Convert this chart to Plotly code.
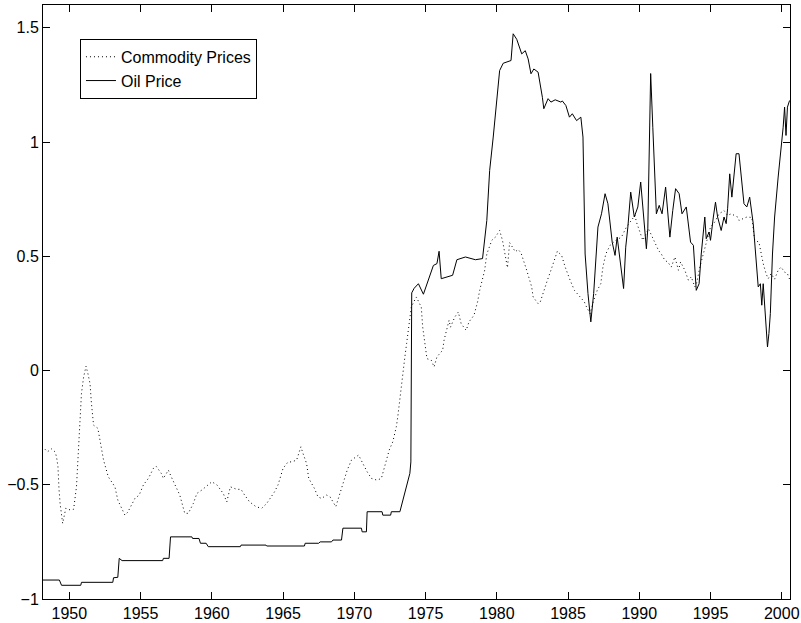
import plotly.graph_objects as go

# Oil price (solid)
oil_years = [1948.15, 1949.3, 1949.45, 1950.8, 1950.85, 1953.05, 1953.1, 1953.4, 1953.5, 1953.7,
             1956.55, 1956.6, 1957.0, 1957.1, 1958.6, 1958.65, 1959.1, 1959.2, 1959.6, 1959.75,
             1962.0, 1962.05, 1963.8, 1963.85, 1966.5, 1966.55, 1967.5, 1967.6, 1968.4, 1968.5,
             1969.1, 1969.2, 1970.5, 1970.55, 1970.85, 1970.9, 1971.95, 1972.0, 1972.55, 1972.6,
             1973.2, 1973.4, 1973.6, 1973.9, 1973.97, 1974.03, 1974.2, 1974.5, 1974.85, 1975.2,
             1975.55, 1975.8, 1975.95, 1976.1, 1976.5, 1976.9, 1977.2, 1977.8, 1978.5, 1979.0,
             1979.3, 1979.5, 1979.75, 1979.98, 1980.2, 1980.45, 1980.7, 1981.0, 1981.15, 1981.4,
             1981.75, 1982.0, 1982.2, 1982.4, 1982.6, 1982.9, 1983.2, 1983.3, 1983.6, 1983.8,
             1984.1, 1984.5, 1984.6, 1984.85, 1985.1, 1985.3, 1985.6, 1985.9, 1986.05, 1986.2,
             1986.4, 1986.6, 1986.8, 1987.1, 1987.35, 1987.6, 1987.8, 1988.1, 1988.3, 1988.45,
             1988.6, 1988.9, 1989.05, 1989.2, 1989.4, 1989.65, 1989.9, 1990.1, 1990.25, 1990.5,
             1990.6, 1990.8, 1990.95, 1991.2, 1991.4, 1991.6, 1991.85, 1992.05, 1992.15, 1992.35,
             1992.55, 1992.8, 1993.0, 1993.3, 1993.6, 1993.8, 1994.0, 1994.2, 1994.35, 1994.6,
             1994.7, 1994.9, 1995.0, 1995.2, 1995.35, 1995.5, 1995.6, 1995.75, 1995.95, 1996.1,
             1996.2, 1996.35, 1996.5, 1996.65, 1996.8, 1997.0, 1997.2, 1997.35, 1997.55, 1997.75,
             1998.0, 1998.2, 1998.35, 1998.5, 1998.6, 1998.7, 1998.85, 1999.0, 1999.1, 1999.2,
             1999.35, 1999.5, 1999.75, 1999.95, 2000.1, 2000.2, 2000.3, 2000.4, 2000.55]
oil_values = [-0.917, -0.917, -0.94, -0.94, -0.927, -0.927, -0.907, -0.905, -0.822, -0.832,
              -0.832, -0.822, -0.822, -0.728, -0.728, -0.735, -0.735, -0.756, -0.756, -0.771,
              -0.771, -0.764, -0.764, -0.768, -0.768, -0.756, -0.756, -0.75, -0.75, -0.742,
              -0.742, -0.69, -0.69, -0.706, -0.706, -0.618, -0.618, -0.633, -0.633, -0.618,
              -0.618, -0.57, -0.523, -0.45, -0.40, 0.34, 0.36, 0.38, 0.334, 0.395,
              0.46, 0.468, 0.522, 0.402, 0.41, 0.417, 0.485, 0.497, 0.485, 0.49,
              0.657, 0.876, 1.022, 1.167, 1.313, 1.345, 1.35, 1.357, 1.474, 1.45,
              1.386, 1.40, 1.364, 1.299, 1.32, 1.306, 1.196, 1.146, 1.19, 1.175,
              1.185, 1.175, 1.18, 1.16, 1.109, 1.124, 1.094, 1.109, 1.022, 0.51,
              0.337, 0.213, 0.337, 0.628, 0.686, 0.774, 0.73, 0.562, 0.504, 0.584,
              0.51, 0.359, 0.54, 0.628, 0.781, 0.672, 0.716, 0.825, 0.716, 0.533,
              0.62, 1.30, 1.065, 0.686, 0.723, 0.686, 0.803, 0.672, 0.584, 0.70,
              0.796, 0.774, 0.686, 0.716, 0.562, 0.548, 0.351, 0.38, 0.51, 0.672,
              0.577, 0.606, 0.57, 0.672, 0.737, 0.672, 0.643, 0.613, 0.672, 0.643,
              0.708, 0.861, 0.759, 0.847, 0.949, 0.949, 0.832, 0.73, 0.716, 0.759,
              0.643, 0.482, 0.366, 0.38, 0.286, 0.38, 0.249, 0.103, 0.162, 0.249,
              0.51, 0.672, 0.847, 0.963, 1.065, 1.153, 1.029, 1.153, 1.182]

# Commodity prices (dotted)
com_years = [1948.3, 1948.45, 1948.75, 1949.0, 1949.1, 1949.2, 1949.27, 1949.35, 1949.53, 1949.75,
             1950.05, 1950.3, 1950.5, 1950.6, 1950.75, 1950.85, 1951.0, 1951.17, 1951.3, 1951.45,
             1951.55, 1951.7, 1952.0, 1952.2, 1952.4, 1952.73, 1953.2, 1953.4, 1953.8, 1953.9,
             1954.1, 1954.6, 1954.9, 1955.2, 1955.55, 1955.9, 1956.1, 1956.45, 1956.6, 1956.95,
             1957.15, 1957.4, 1957.75, 1958.1, 1958.35, 1958.7, 1958.95, 1959.3, 1960.0, 1960.35,
             1960.8, 1961.05, 1961.3, 1961.75, 1962.05, 1962.3, 1962.65, 1963.1, 1963.5, 1963.85,
             1964.1, 1964.4, 1964.65, 1964.8, 1965.0, 1965.35, 1965.6, 1965.95, 1966.1, 1966.25,
             1966.4, 1966.65, 1966.8, 1967.2, 1967.45, 1967.7, 1968.05, 1968.3, 1968.7, 1969.05,
             1969.25, 1969.5, 1969.8, 1970.3, 1970.6, 1970.9, 1971.2, 1971.6, 1971.9, 1972.15,
             1972.27, 1972.45, 1972.7, 1972.95, 1973.05, 1973.2, 1973.4, 1973.55, 1973.67, 1973.8,
             1974.0, 1974.35, 1974.7, 1974.8, 1974.97, 1975.1, 1975.4, 1975.6, 1975.8, 1976.2,
             1976.3, 1976.5, 1976.65, 1976.75, 1977.05, 1977.3, 1977.5, 1977.85, 1978.05, 1978.4,
             1978.65, 1978.8, 1979.0, 1979.15, 1979.3, 1979.45, 1979.65, 1979.9, 1980.2, 1980.4,
             1980.6, 1980.75, 1980.9, 1981.1, 1981.3, 1981.5, 1981.7, 1982.1, 1982.45, 1982.55,
             1982.9, 1983.05, 1983.3, 1983.55, 1983.8, 1984.05, 1984.25, 1984.55, 1984.8, 1985.15,
             1985.45, 1985.85, 1986.15, 1986.3, 1986.55, 1986.8, 1987.05, 1987.3, 1987.45, 1987.65,
             1987.95, 1988.35, 1988.75, 1989.1, 1989.45, 1989.7, 1989.8, 1990.0, 1990.25, 1990.65,
             1990.85, 1991.1, 1991.35, 1991.55, 1991.8, 1992.0, 1992.25, 1992.5, 1992.75, 1992.9,
             1993.2, 1993.45, 1993.65, 1993.9, 1994.05, 1994.25, 1994.5, 1994.7, 1994.85, 1995.0,
             1995.3, 1995.6, 1995.95, 1996.2, 1996.45, 1996.9, 1997.0, 1997.55, 1997.9, 1998.1,
             1998.4, 1998.55, 1998.7, 1998.9, 1999.05, 1999.25, 1999.5, 1999.75, 1999.95, 2000.2,
             2000.4, 2000.55]
com_values = [-0.345, -0.356, -0.343, -0.356, -0.378, -0.421, -0.516, -0.582, -0.669, -0.603,
              -0.61, -0.607, -0.509, -0.378, -0.217, -0.10, -0.029, 0.019, -0.013, -0.057,
              -0.144, -0.239, -0.253, -0.319, -0.392, -0.465, -0.509, -0.567, -0.625, -0.633,
              -0.62, -0.56, -0.545, -0.50, -0.472, -0.428, -0.42, -0.45, -0.472, -0.436,
              -0.465, -0.50, -0.545, -0.625, -0.625, -0.582, -0.538, -0.523, -0.487, -0.50,
              -0.538, -0.575, -0.509, -0.52, -0.52, -0.545, -0.575, -0.596, -0.603, -0.582,
              -0.56, -0.531, -0.50, -0.465, -0.428, -0.40, -0.40, -0.392, -0.363, -0.334,
              -0.363, -0.407, -0.472, -0.516, -0.553, -0.56, -0.545, -0.553, -0.596, -0.523,
              -0.48, -0.436, -0.392, -0.37, -0.407, -0.443, -0.472, -0.48, -0.472, -0.414,
              -0.378, -0.348, -0.312, -0.246, -0.203, -0.115, -0.013, 0.06, 0.118, 0.19,
              0.278, 0.322, 0.278, 0.19, 0.103, 0.052, 0.045, 0.016, 0.06, 0.089,
              0.133, 0.176, 0.22, 0.19, 0.234, 0.256, 0.205, 0.176, 0.213, 0.242,
              0.30, 0.351, 0.395, 0.439, 0.51, 0.54, 0.57, 0.584, 0.613, 0.57,
              0.50, 0.45, 0.56, 0.54, 0.52, 0.53, 0.515, 0.439, 0.366, 0.322,
              0.293, 0.30, 0.351, 0.395, 0.439, 0.49, 0.522, 0.504, 0.453, 0.395,
              0.351, 0.322, 0.30, 0.278, 0.249, 0.307, 0.351, 0.38, 0.453, 0.51,
              0.548, 0.57, 0.584, 0.628, 0.657, 0.679, 0.65, 0.613, 0.57, 0.62,
              0.592, 0.562, 0.526, 0.51, 0.482, 0.475, 0.453, 0.497, 0.439, 0.475,
              0.439, 0.395, 0.41, 0.366, 0.388, 0.453, 0.51, 0.562, 0.60, 0.628,
              0.65, 0.686, 0.70, 0.679, 0.686, 0.672, 0.657, 0.672, 0.67, 0.57,
              0.562, 0.51, 0.468, 0.424, 0.402, 0.424, 0.40, 0.439, 0.453, 0.431,
              0.424, 0.40]

x_ticks = [1950, 1955, 1960, 1965, 1970, 1975, 1980, 1985, 1990, 1995, 2000]
y_ticks = [-1, -0.5, 0, 0.5, 1, 1.5]

FONT = "Liberation Sans, Arial, Helvetica, sans-serif"

fig = go.Figure()
fig.add_trace(go.Scatter(x=com_years, y=com_values, mode="lines", name="Commodity Prices",
                         line=dict(color="black", width=1, dash="1px,3px")))
fig.add_trace(go.Scatter(x=oil_years, y=oil_values, mode="lines", name="Oil Price",
                         line=dict(color="black", width=1)))

axis_common = dict(showline=True, linecolor="black", linewidth=1, mirror="ticks",
                   ticks="inside", ticklen=7, tickcolor="black", tickwidth=1,
                   showgrid=False, zeroline=False, automargin=False,
                   tickfont=dict(family=FONT, size=16, color="black"))

fig.update_xaxes(range=[1948.15, 2000.58], tickvals=x_ticks, **axis_common)
fig.update_yaxes(range=[-1, 1.6], tickvals=y_ticks, **axis_common)

fig.update_layout(
    width=801, height=623,
    margin=dict(l=43, r=11, t=5, b=24),
    paper_bgcolor="white", plot_bgcolor="white",
    font=dict(family=FONT, size=16, color="black"),
    legend=dict(x=0.0495, y=0.943, xanchor="left", yanchor="top",
                bordercolor="black", borderwidth=1, bgcolor="white",
                font=dict(family=FONT, size=16, color="black"),
                itemwidth=30, tracegroupgap=0),
    showlegend=True,
)

fig.write_html("out.html", config={"displayModeBar": False},
               post_script="document.body.style.margin='0';document.body.style.overflow='hidden';")
